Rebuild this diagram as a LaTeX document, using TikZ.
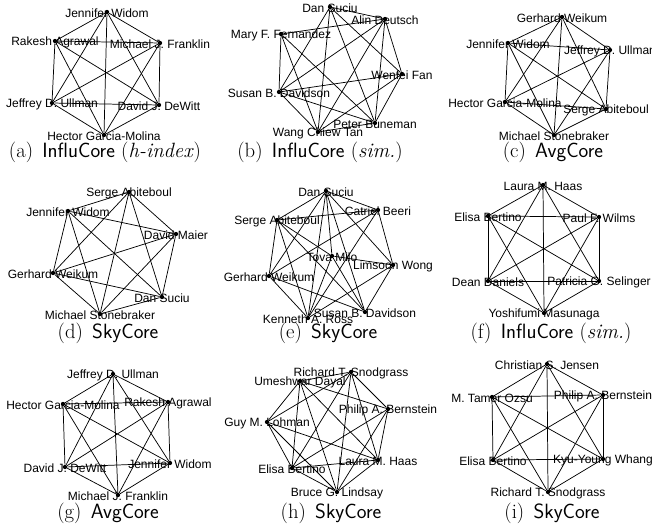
\documentclass[tikz,border=0pt]{standalone}
\usepackage{fontspec}
\newfontfamily\namefont{Liberation Sans}
\tikzset{
    vtx/.style={circle,fill=black,inner sep=0pt,minimum size=3.2pt},
    who/.style={font=\namefont\fontsize{9}{10}\selectfont,inner sep=0pt},
    subcap/.style={font=\fontsize{15.5}{17}\selectfont,inner sep=0pt},
    tie/.style={line width=0.55pt},
}
% one author: name, x, y, text
\newcommand\Person[4]{%
    \node[who] (#1t) at (#2,#3+1.5) {#4};
    \node[vtx] (#1) at (#2,#3) {};
}
% every pair of a group
\newcommand\Clique[1]{%
    \foreach \u [count=\i] in {#1}{
        \foreach \v [count=\j] in {#1}{
            \ifnum\i<\j \draw[tie] (\u) -- (\v); \fi
        }
    }
}
\newcommand\Ties[1]{%
    \foreach \u/\v in {#1} \draw[tie] (\u) -- (\v);
}

\begin{document}
\begin{tikzpicture}[x=0.75pt,y=-0.75pt]
    \useasboundingbox (0,0) rectangle (652,525);
    % (a)
    \Person{aJW}{107}{12}{Jennifer Widom}
    \Person{aRA}{55}{41}{Rakesh Agrawal}
    \Person{aMF}{160}{43}{Michael J. Franklin}
    \Person{aJU}{52}{103}{Jeffrey D. Ullman}
    \Person{aDD}{159}{105}{David J. DeWitt}
    \Person{aHG}{104}{135}{Hector Garcia-Molina}
    \Clique{aJW,aRA,aMF,aJU,aDD,aHG}
    \node[subcap] (capa) at (105,152) {(a)\hspace{0.45em}\textsf{InfluCore} (\textit{h-index})};
    % (b)
    \Person{bDS}{330}{7}{Dan Suciu}
    \Person{bAD}{385}{19}{Alin Deutsch}
    \Person{bMF}{281}{34}{Mary F. Fernandez}
    \Person{bWF}{402}{74}{Wenfei Fan}
    \Person{bSD}{279}{92}{Susan B. Davidson}
    \Person{bPB}{375}{123}{Peter Buneman}
    \Person{bWT}{318}{132}{Wang Chiew Tan}
    \Ties{bDS/bAD,bDS/bSD,bDS/bWT,bDS/bPB,bDS/bWF,
          bMF/bAD,bMF/bSD,bMF/bPB,bMF/bWT,
          bAD/bSD,bAD/bWT,bAD/bPB,bAD/bWF,
          bWF/bSD,bWF/bWT,bWF/bPB,
          bSD/bPB,bSD/bWT,bPB/bWT}
    \node[subcap] (capb) at (320,152) {(b)\hspace{0.45em}\textsf{InfluCore} (\textit{sim.})};
    % (c)
    \Person{cGW}{562}{17}{Gerhard Weikum}
    \Person{cJW}{508}{43}{Jennifer Widom}
    \Person{cJU}{610}{50}{Jeffrey D. Ullman}
    \Person{cHG}{505}{102}{Hector Garcia-Molina}
    \Person{cSA}{606}{109}{Serge Abiteboul}
    \Person{cMS}{554}{135}{Michael Stonebraker}
    \Clique{cGW,cJW,cJU,cHG,cSA,cMS}
    \node[subcap] (capc) at (553,152) {(c)\hspace{0.45em}\textsf{AvgCore}};
    % (d)
    \Person{dSA}{129}{192}{Serge Abiteboul}
    \Person{dJW}{68}{211}{Jennifer Widom}
    \Person{dDM}{176}{234}{David Maier}
    \Person{dGW}{53}{273}{Gerhard Weikum}
    \Person{dDS}{162}{297}{Dan Suciu}
    \Person{dMS}{100}{314}{Michael Stonebraker}
    \Clique{dSA,dJW,dDM,dGW,dDS,dMS}
    \node[subcap] (capd) at (108,333) {(d)\hspace{0.45em}\textsf{SkyCore}};
    % (e)
    \Person{eDS}{326}{191}{Dan Suciu}
    \Person{eCB}{378}{210}{Catriel Beeri}
    \Person{eSA}{277}{220}{Serge Abiteboul}
    \Person{eTM}{332}{256}{Tova Milo}
    \Person{eLW}{393}{265}{Limsoon Wong}
    \Person{eGW}{269}{276}{Gerhard Weikum}
    \Person{eKR}{308}{318}{Kenneth A. Ross}
    \Person{eSD}{365}{312}{Susan B. Davidson}
    \Ties{eDS/eCB,eDS/eSA,eDS/eGW,eDS/eKR,eDS/eTM,eDS/eSD,eDS/eLW,
          eCB/eSA,eCB/eGW,eCB/eLW,eCB/eKR,
          eSA/eGW,eSA/eKR,eSA/eTM,eSA/eSD,
          eTM/eLW,eTM/eKR,eTM/eSD,
          eLW/eKR,eLW/eSD,eGW/eKR,eGW/eSD}
    \node[subcap] (cape) at (328,333) {(e)\hspace{0.45em}\textsf{SkyCore}};
    % (f)
    \Person{fLH}{543}{185}{Laura M. Haas}
    \Person{fEB}{488}{216}{Elisa Bertino}
    \Person{fPW}{599}{217}{Paul F. Wilms}
    \Person{fDD}{488}{281}{Dean Daniels}
    \Person{fPS}{599}{281}{Patricia G. Selinger}
    \Person{fYM}{544}{313}{Yoshifumi Masunaga}
    \Clique{fLH,fEB,fPW,fDD,fPS,fYM}
    \node[subcap] (capf) at (551,333) {(f)\hspace{0.45em}\textsf{InfluCore} (\textit{sim.})};
    % (g)
    \Person{gJU}{113}{374}{Jeffrey D. Ullman}
    \Person{gHG}{63}{404}{Hector Garcia-Molina}
    \Person{gRA}{168}{402}{Rakesh Agrawal}
    \Person{gDD}{65}{467}{David J. DeWitt}
    \Person{gJW}{170}{463}{Jennifer Widom}
    \Person{gMF}{118}{495}{Michael J. Franklin}
    \Clique{gJU,gHG,gRA,gDD,gJW,gMF}
    \node[subcap] (capg) at (108,513) {(g)\hspace{0.45em}\textsf{AvgCore}};
    % (h)
    \Person{hRS}{351}{372}{Richard T. Snodgrass}
    \Person{hUD}{300}{381}{Umeshwar Dayal}
    \Person{hPB}{388}{409}{Philip A. Bernstein}
    \Person{hGL}{267}{422}{Guy M. Lohman}
    \Person{hLH}{378}{460}{Laura M. Haas}
    \Person{hEB}{292}{468}{Elisa Bertino}
    \Person{hBL}{337}{492}{Bruce G. Lindsay}
    \Ties{hRS/hUD,hRS/hPB,hRS/hLH,hRS/hEB,hRS/hBL,hRS/hGL,
          hUD/hGL,hUD/hPB,hUD/hLH,hUD/hEB,hUD/hBL,
          hGL/hLH,hGL/hEB,hGL/hBL,
          hPB/hEB,hPB/hLH,hPB/hBL,
          hLH/hEB,hLH/hBL,hEB/hBL}
    \node[subcap] (caph) at (331,513) {(h)\hspace{0.45em}\textsf{SkyCore}};
    % (i)
    \Person{iCJ}{547}{364}{Christian S. Jensen}
    \Person{iMO}{492}{397}{M. Tamer Ozsu}
    \Person{iPB}{603}{395}{Philip A. Bernstein}
    \Person{iEB}{493}{460}{Elisa Bertino}
    \Person{iKW}{603}{459}{Kyu-Young Whang}
    \Person{iRS}{548}{492}{Richard T. Snodgrass}
    \Clique{iCJ,iMO,iPB,iEB,iKW,iRS}
    \node[subcap] (capi) at (552,513) {(i)\hspace{0.45em}\textsf{SkyCore}};
\end{tikzpicture}
\end{document}
